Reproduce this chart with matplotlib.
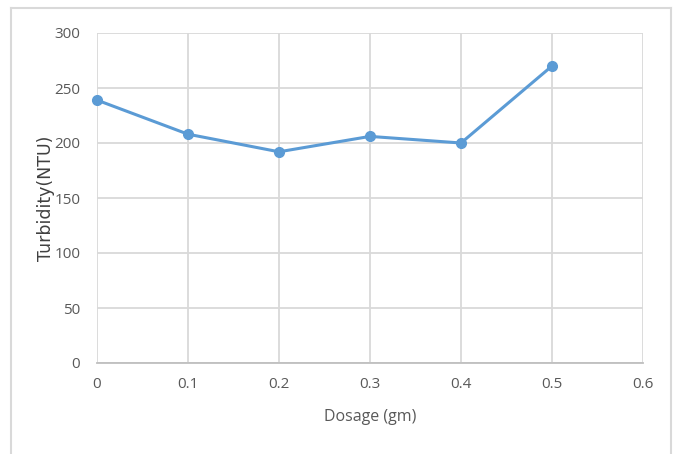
import matplotlib
matplotlib.use("Agg")
import matplotlib.pyplot as plt
from matplotlib.lines import Line2D

dosage = [0, 0.1, 0.2, 0.3, 0.4, 0.5]
turbidity = [239, 208, 192, 206, 200, 270]
xticks = [0, 0.1, 0.2, 0.3, 0.4, 0.5, 0.6]
xticklabels = ["0", "0.1", "0.2", "0.3", "0.4", "0.5", "0.6"]
yticks = [0, 50, 100, 150, 200, 250, 300]

W, H = 673, 454
fig = plt.figure(figsize=(W / 100, H / 100), dpi=100)
ax = fig.add_axes([97 / W, 1 - 363 / H, (643 - 97) / W, (363 - 33) / H])

line_color = "#5B9BD5"
grid_color = "#D9D9D9"
text_color = "#595959"

ax.plot(dosage, turbidity, color=line_color, linewidth=2.2, marker="o",
        markersize=7, zorder=3, clip_on=False)
ax.set_xlim(0, 0.6)
ax.set_ylim(0, 300)
ax.set_xticks(xticks)
ax.set_xticklabels(xticklabels)
ax.set_yticks(yticks)
ax.grid(True, color=grid_color, linewidth=1.3)
ax.set_axisbelow(True)
for s in ["top", "right"]:
    ax.spines[s].set_visible(False)
ax.spines["left"].set_visible(False)
ax.spines["bottom"].set_color("#BFBFBF")
ax.spines["bottom"].set_linewidth(1.3)
ax.tick_params(length=0, colors=text_color, labelsize=11, pad=10)
for lbl in ax.get_xticklabels() + ax.get_yticklabels():
    lbl.set_fontfamily("Open Sans")
ax.tick_params(axis="y", pad=12)

ax.set_xlabel("Dosage (gm)", fontsize=11.5, color=text_color, family="Open Sans", labelpad=12)
ax.set_ylabel("Turbidity(NTU)", fontsize=12.5, color="#404040", family="DejaVu Sans")
ax.yaxis.set_label_coords((55 - 97) / 546, (363 - 198) / 330)

# outer chart border
bc = "#D9D9D9"
fig.add_artist(Line2D([11 / W, 11 / W], [0, 1 - 8 / H], color=bc, lw=1.5, transform=fig.transFigure))
fig.add_artist(Line2D([671 / W, 671 / W], [0, 1 - 8 / H], color=bc, lw=1.5, transform=fig.transFigure))
fig.add_artist(Line2D([11 / W, 671 / W], [1 - 8 / H, 1 - 8 / H], color=bc, lw=1.5, transform=fig.transFigure))

fig.savefig("out.png", dpi=100)
